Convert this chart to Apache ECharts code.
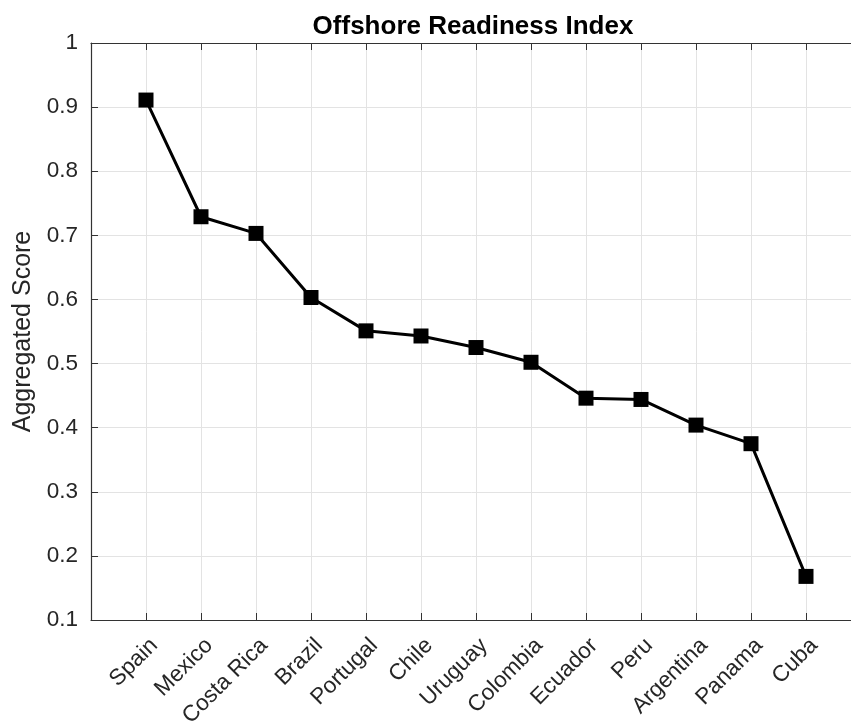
<!DOCTYPE html>
<html>
<head>
<meta charset="utf-8">
<title>Offshore Readiness Index</title>
<script src="https://cdn.jsdelivr.net/npm/echarts@6/dist/echarts.min.js"></script>
<style>
  html, body { margin: 0; padding: 0; background: #ffffff; }
  #chart { width: 851px; height: 724px; }
</style>
</head>
<body>
<div id="chart"></div>
<script>
// Countries in ranking order and their aggregated readiness scores
const countries = ['Spain', 'Mexico', 'Costa Rica', 'Brazil', 'Portugal', 'Chile', 'Uruguay',
                   'Colombia', 'Ecuador', 'Peru', 'Argentina', 'Panama', 'Cuba'];
const scores = [0.911, 0.729, 0.703, 0.603, 0.551, 0.543, 0.525, 0.502, 0.446, 0.444, 0.404, 0.375, 0.168];
const yTicks = [0.1, 0.2, 0.3, 0.4, 0.5, 0.6, 0.7, 0.8, 0.9, 1];

// Each country sits at integer position 1..N on the x axis
const points = scores.map((v, i) => [i + 1, v]);

const FONT = '"Liberation Sans", Arial, Helvetica, sans-serif';
const AXIS_COLOR = '#333333';
const GRID_COLOR = '#e3e3e3';
const TICK_FONT = 22.5;

const chart = echarts.init(document.getElementById('chart'), null, { renderer: 'canvas' });

chart.setOption({
  animation: false,
  backgroundColor: '#ffffff',
  title: {
    text: 'Offshore Readiness Index',
    left: 468,
    textAlign: 'center',
    top: 9,
    textStyle: { fontFamily: FONT, fontSize: 26, fontWeight: 'bold', color: '#000000' }
  },
  // The plot box runs slightly past the right edge of the canvas
  grid: { left: 91, top: 43, width: 770, height: 577, containLabel: false, outerBoundsMode: 'none' },
  xAxis: [
    {
      type: 'value',
      min: 0,
      max: countries.length + 1,
      interval: 1,
      position: 'bottom',
      axisLine: { show: true, lineStyle: { color: AXIS_COLOR, width: 1.2 } },
      axisTick: { show: true, inside: true, length: 7, lineStyle: { color: AXIS_COLOR } },
      splitLine: { show: true, lineStyle: { color: GRID_COLOR, width: 1 } },
      axisLabel: {
        rotate: 45,
        margin: 14,
        verticalAlign: 'top',
        fontFamily: FONT,
        fontSize: TICK_FONT,
        color: '#262626',
        showMinLabel: true,
        showMaxLabel: true,
        hideOverlap: false,
        formatter: v => countries[v - 1] || ''
      }
    },
    {
      type: 'value',
      min: 0,
      max: countries.length + 1,
      interval: 1,
      position: 'top',
      axisLine: { show: true, lineStyle: { color: AXIS_COLOR, width: 1.2 } },
      axisTick: { show: true, inside: true, length: 7, lineStyle: { color: AXIS_COLOR } },
      splitLine: { show: false },
      axisLabel: { show: false }
    }
  ],
  yAxis: {
    type: 'value',
    min: yTicks[0],
    max: yTicks[yTicks.length - 1],
    interval: 0.1,
    name: 'Aggregated Score',
    nameLocation: 'middle',
    nameGap: 53,
    nameTextStyle: { fontFamily: FONT, fontSize: 25, color: '#262626' },
    axisLine: { show: true, lineStyle: { color: AXIS_COLOR, width: 1.2 } },
    axisTick: { show: true, inside: true, length: 7, lineStyle: { color: AXIS_COLOR } },
    splitLine: { show: true, lineStyle: { color: GRID_COLOR, width: 1 } },
    axisLabel: {
      margin: 13,
      fontFamily: FONT,
      fontSize: TICK_FONT,
      color: '#262626',
      formatter: v => {
        const t = yTicks.find(k => Math.abs(k - v) < 1e-9);
        return t === undefined ? '' : String(t);
      }
    }
  },
  series: [
    {
      type: 'line',
      xAxisIndex: 0,
      data: points,
      symbol: 'rect',
      symbolSize: 15,
      lineStyle: { color: '#000000', width: 3 },
      itemStyle: { color: '#000000' },
      emphasis: { disabled: true }
    }
  ]
});
</script>
</body>
</html>
